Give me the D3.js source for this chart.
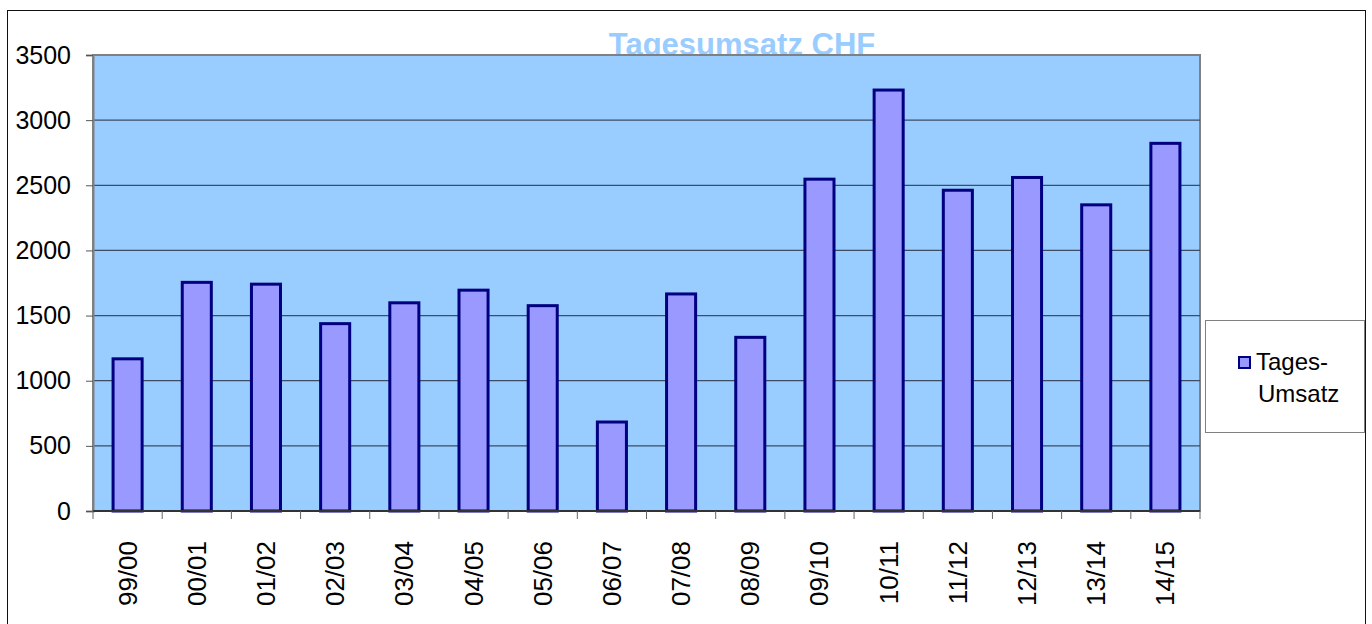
<!DOCTYPE html>
<html>
<head>
<meta charset="utf-8">
<script src="https://cdn.jsdelivr.net/npm/d3@7"></script>
<style>
  body { margin: 0; background: #fff; }
  svg { display: block; font-family: "Liberation Sans", Arial, sans-serif; }
</style>
</head>
<body>
<svg></svg>
<script>
// values
var seasons = ["99/00", "00/01", "01/02", "02/03", "03/04", "04/05", "05/06", "06/07",
               "07/08", "08/09", "09/10", "10/11", "11/12", "12/13", "13/14", "14/15"];
var umsatz = [1168, 1755, 1741, 1438, 1598, 1695, 1576, 683,
              1666, 1333, 2547, 3231, 2462, 2560, 2350, 2822];
var yTicks = [0, 500, 1000, 1500, 2000, 2500, 3000, 3500];
var legendLines = ["Tages-", "Umsatz"];
var title = "Tagesumsatz CHF";

var width = 1372, height = 624;
var plot = { left: 93, top: 55, right: 1200, bottom: 511 };

var svg = d3.select("svg")
    .attr("width", width)
    .attr("height", height);

// outer chart frame
svg.append("rect")
    .attr("x", 7.5).attr("y", 10.5)
    .attr("width", 1358).attr("height", 630)
    .attr("fill", "#fff")
    .attr("stroke", "#111")
    .attr("stroke-width", 1);

var x = d3.scaleBand()
    .domain(seasons)
    .range([plot.left, plot.right])
    .paddingInner(0.58)
    .paddingOuter(0.29);

var y = d3.scaleLinear()
    .domain([0, 3500])
    .range([plot.bottom, plot.top]);

// title sits behind the plot area, as in the original
svg.append("text")
    .attr("x", 742)
    .attr("y", 55)
    .attr("text-anchor", "middle")
    .attr("font-size", 31)
    .attr("font-weight", "bold")
    .attr("fill", "#99ccff")
    .text(title);

svg.append("rect")
    .attr("x", plot.left).attr("y", plot.top)
    .attr("width", plot.right - plot.left)
    .attr("height", plot.bottom - plot.top)
    .attr("fill", "#99ccff")
    .attr("stroke", "#808080")
    .attr("stroke-width", 2);

// grid lines
svg.append("g")
    .selectAll("line")
    .data(yTicks.filter(d => d > 0 && d < 3500))
    .join("line")
    .attr("x1", plot.left).attr("x2", plot.right)
    .attr("y1", d => y(d)).attr("y2", d => y(d))
    .attr("stroke", "#3d4d66")
    .attr("stroke-width", 1.3);

// bars
svg.append("g")
    .selectAll("rect")
    .data(umsatz)
    .join("rect")
    .attr("x", (d, i) => x(seasons[i]))
    .attr("y", d => y(d))
    .attr("width", x.bandwidth())
    .attr("height", d => y(0) - y(d))
    .attr("fill", "#9999ff")
    .attr("stroke", "#000080")
    .attr("stroke-width", 3);

// y axis
var yAxis = d3.axisLeft(y)
    .tickValues(yTicks)
    .tickSize(7)
    .tickPadding(15)
    .tickFormat(d3.format("d"));

var gy = svg.append("g")
    .attr("transform", "translate(" + plot.left + ",0)")
    .call(yAxis);
gy.select(".domain").attr("stroke", "#808080").attr("stroke-width", 2);
gy.selectAll(".tick line").attr("stroke", "#555");
gy.selectAll(".tick text")
    .attr("font-size", 25)
    .attr("font-family", "Liberation Sans, Arial, sans-serif")
    .attr("fill", "#000");

// x axis: ticks on the band edges, labels rotated
var gx = svg.append("g")
    .attr("transform", "translate(0," + plot.bottom + ")");
gx.append("line")
    .attr("x1", plot.left).attr("x2", plot.right)
    .attr("stroke", "#333").attr("stroke-width", 2);

var edges = d3.range(seasons.length + 1).map(i => plot.left + i * (plot.right - plot.left) / seasons.length);
gx.selectAll("line.tick")
    .data(edges)
    .join("line")
    .attr("class", "tick")
    .attr("x1", d => d).attr("x2", d => d)
    .attr("y1", 0).attr("y2", 8)
    .attr("stroke", "#666");

gx.selectAll("text")
    .data(seasons)
    .join("text")
    .attr("transform", d => "translate(" + (x(d) + x.bandwidth() / 2 + 9) + ",30) rotate(-90)")
    .attr("text-anchor", "end")
    .attr("font-size", 26)
    .attr("fill", "#000")
    .text(d => d);

// legend
var lg = svg.append("g");
lg.append("rect")
    .attr("x", 1205.5).attr("y", 320.5)
    .attr("width", 159).attr("height", 112)
    .attr("fill", "#fff")
    .attr("stroke", "#808080")
    .attr("stroke-width", 1);
lg.append("rect")
    .attr("x", 1239).attr("y", 357)
    .attr("width", 11).attr("height", 11)
    .attr("fill", "#9999ff")
    .attr("stroke", "#000080")
    .attr("stroke-width", 2);
lg.selectAll("text")
    .data(legendLines)
    .join("text")
    .attr("x", (d, i) => i === 0 ? 1256 : 1258)
    .attr("y", (d, i) => 370 + i * 32)
    .attr("font-size", 24)
    .attr("fill", "#000")
    .text(d => d);
</script>
</body>
</html>
